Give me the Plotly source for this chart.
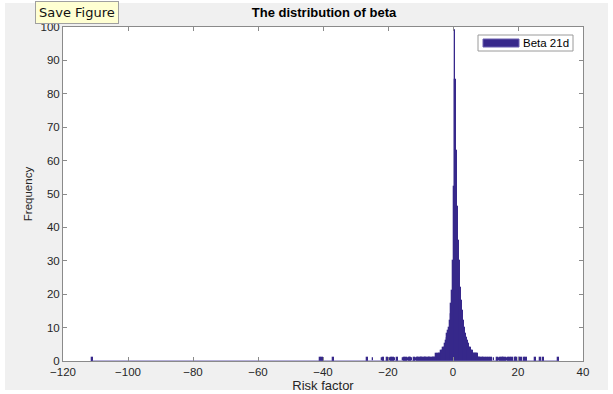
import plotly.graph_objects as go

# ---- data ----
BIN_WIDTH = 0.25
core_start = -8.0  # left edge of first core bin
core_counts = [
    0, 1, 0, 1, 1, 0, 1, 1, 1, 1, 1, 2, 1, 2, 2, 2,      # -8.0 .. -4.25
    2, 3, 3, 3, 4, 4, 5, 6, 7, 8, 9, 10, 12, 14, 17, 21,  # -4.0 .. -0.25
    30, 52, 99, 84, 63, 46, 36, 30, 26, 22, 18, 15,       # 0.0 .. 2.75
    12, 11, 10, 8, 7, 6, 5, 5, 4, 4, 3, 3, 3, 2, 2, 2,    # 3.0 .. 6.75
    2, 1, 2, 1, 1, 1, 1, 0, 1, 1, 0, 1,                   # 7.0 .. 9.75
]
tail_edges = [
    -111.0, -41.0, -40.25, -37.0, -26.5, -24.75, -22.0, -21.5, -20.25,
    -19.5, -19.0, -18.5, -18.0, -17.25, -15.5, -15.0, -14.5, -14.0,
    -13.5, -13.25, -12.75, -12.0, -11.5, -11.0, -10.75, -10.25, -9.75,
    -9.5, -9.0, -8.5, -8.25,
    10.0, 10.5, 11.0, 11.75, 12.5, 13.5, 14.0, 14.5, 15.0, 15.5, 16.0,
    16.5, 17.0, 17.5, 18.25, 19.0, 19.5, 20.25, 21.0, 21.75, 22.5,
    25.25, 26.75, 27.75, 32.25,
]
tail_counts = [1] * len(tail_edges)

x_ticks = [-120, -100, -80, -60, -40, -20, 0, 20, 40]
y_ticks = [0, 10, 20, 30, 40, 50, 60, 70, 80, 90, 100]

title_text = "The distribution of beta"
x_title = "Risk factor"
y_title = "Frequency"
series_name = "Beta 21d"

# ---- build bars ----
core_edges = [core_start + i * BIN_WIDTH for i in range(len(core_counts))]
edges = core_edges + tail_edges
counts = core_counts + tail_counts
centers = [e + BIN_WIDTH / 2 for e in edges]

BAR_COLOR = "#37288b"
AX_COLOR = "#8a8a8a"
FONT = "Liberation Sans, Arial, sans-serif"

fig = go.Figure()
lo = min(edges)
hi = max(edges) + BIN_WIDTH
fig.add_trace(go.Scatter(x=[lo, hi], y=[0, 0], mode="lines",
                         line=dict(color="#6b5fb0", width=1),
                         showlegend=False, hoverinfo="skip"))
fig.add_trace(go.Bar(x=centers, y=counts, width=BIN_WIDTH, name=series_name,
                     marker=dict(color=BAR_COLOR, line=dict(color=BAR_COLOR, width=1.3)),
                     showlegend=False))

W, H = 613, 394
L, R, T, B = 63, 30, 27, 33
pw, ph = W - L - R, H - T - B


def px(xp):
    return (xp - L) / pw


def py(yp):
    return (H - B - yp) / ph


axis_common = dict(showline=True, linecolor=AX_COLOR, linewidth=1, mirror="ticks",
                   ticks="inside", ticklen=4, tickcolor=AX_COLOR, showgrid=False,
                   zeroline=False, automargin=False,
                   tickfont=dict(family=FONT, size=11.5, color="#262626"))

fig.update_layout(
    width=W, height=H,
    margin=dict(l=L, r=R, t=T, b=B),
    paper_bgcolor="#f0f0f0", plot_bgcolor="white",
    bargap=0,
    font=dict(family=FONT, size=11, color="#262626"),
    title=dict(text="<b>" + title_text + "</b>", xref="paper", x=px(324), xanchor="center",
               yref="container", y=1 - 12 / H, yanchor="middle",
               font=dict(size=13, color="#000")),
    xaxis=dict(range=[-120, 40], tickvals=x_ticks, **axis_common,
               title=dict(text=x_title, standoff=1, font=dict(size=13))),
    yaxis=dict(range=[0, 100], tickvals=y_ticks, **axis_common,
               title=dict(text=y_title, standoff=5, font=dict(size=11.5))),
    showlegend=False,
)

shapes = []
# white strips at image edges
shapes.append(dict(type="rect", xref="paper", yref="paper", x0=px(0), x1=px(5),
                   y0=py(H), y1=py(0), fillcolor="white", line=dict(width=0), layer="above"))
shapes.append(dict(type="rect", xref="paper", yref="paper", x0=px(608), x1=px(W),
                   y0=py(H), y1=py(0), fillcolor="white", line=dict(width=0), layer="above"))
shapes.append(dict(type="rect", xref="paper", yref="paper", x0=px(0), x1=px(W),
                   y0=py(H), y1=py(390), fillcolor="white", line=dict(width=0), layer="above"))
shapes.append(dict(type="rect", xref="paper", yref="paper", x0=px(0), x1=px(W),
                   y0=py(3), y1=py(0), fillcolor="white", line=dict(width=0), layer="above"))
# legend box
shapes.append(dict(type="rect", xref="paper", yref="paper", x0=px(478), x1=px(573),
                   y0=py(51), y1=py(35), fillcolor="white",
                   line=dict(color="#9a9a9a", width=1), layer="above"))
shapes.append(dict(type="rect", xref="paper", yref="paper", x0=px(483), x1=px(519),
                   y0=py(47), y1=py(39), fillcolor=BAR_COLOR,
                   line=dict(color="#6b5fb0", width=1), layer="above"))
fig.update_layout(shapes=shapes)

fig.add_annotation(xref="paper", yref="paper", x=px(521), y=py(43), xanchor="left",
                   yanchor="middle", text=series_name, showarrow=False,
                   font=dict(size=11.5, color="#000"))
# tooltip
fig.add_annotation(xref="paper", yref="paper", x=px(35), y=py(12.5), xanchor="left",
                   yanchor="middle", text="Save Figure", showarrow=False,
                   bgcolor="#ffffd2", bordercolor="#a0a0a0", borderwidth=1, borderpad=3,
                   font=dict(family="DejaVu Sans, sans-serif", size=13, color="#111"))

fig.write_html("out.html")
